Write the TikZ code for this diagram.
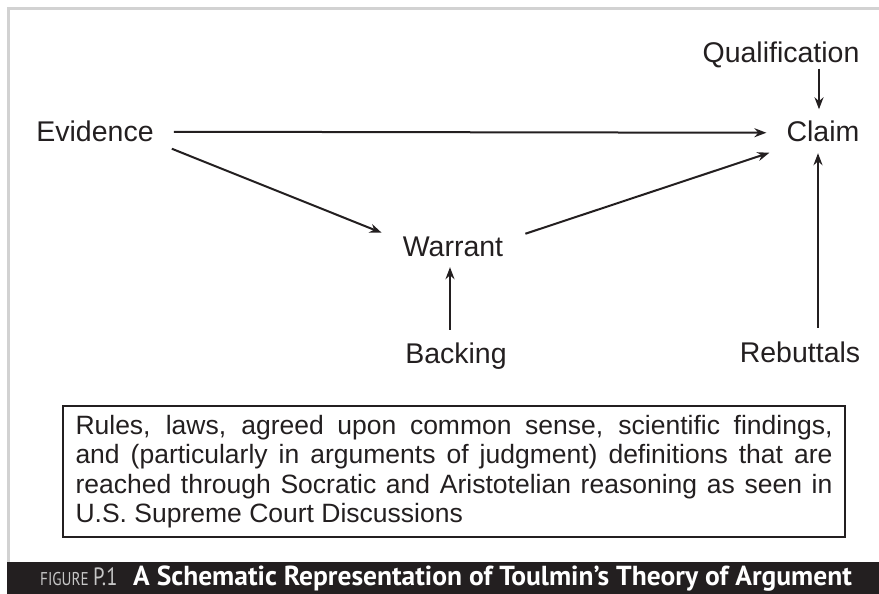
\documentclass[tikz,border=0pt]{standalone}
\usepackage{fontspec}
\setmainfont{Liberation Sans}
\newfontfamily\capfont{PT Sans}
\newfontfamily\figfont[FakeStretch=0.82]{PT Sans}
\usepackage{tikz,xcolor}
\usetikzlibrary{arrows.meta}
\definecolor{ink}{HTML}{231F20}
\definecolor{frame}{HTML}{D2D2D2}

\begin{document}
\begin{tikzpicture}[x=1pt,y=-1pt,
    lab/.style={anchor=base,inner sep=0pt,text height=20.5pt,text depth=0pt,text=ink,font=\fontsize{28.5}{30}\selectfont},
    arr/.style={draw=ink,line width=2pt,-{Stealth[length=12pt,width=9pt]}}]
            \useasboundingbox (0,0) rectangle (879,594);
            \draw[frame,line width=3pt] (8,562) -- (8,9) -- (879,9);
            \fill[ink] (7,562) rectangle (879,594);
            % labels
            \node[lab] (evid) at (95,142) {Evidence};
            \node[lab] (claim) at (823,142) {Claim};
            \node[lab] (qual) at (781,62.5) {Qualification};
            \node[lab] (warr) at (453,256) {Warrant};
            \node[lab] (back) at (456,363) {Backing};
            \node[lab] (rebut) at (800,362) {Rebuttals};
            % arrows
            \draw[arr] ([shift={(20,0)}]evid.east) -- ([shift={(-20,1)}]claim.west);
            \draw[arr] ([shift={(18,17)}]evid.east) -- ([shift={(-21,-13)}]warr.west);
            \draw[arr] ([shift={(22,-12)}]warr.east) -- ([shift={(-17,21)}]claim.west);
            \draw[arr] ([shift={(38,6)}]qual.south) -- ([shift={(-4,-12)}]claim.north);
            \draw[arr] ([shift={(18,-13.5)}]rebut.north) -- ([shift={(-5,11)}]claim.south);
            \draw[arr] ([shift={(-6,-12.5)}]back.north) -- ([shift={(-3,11)}]warr.south);
            % box
            \node[draw=ink,line width=2.5pt,text=ink,text width=757pt,inner xsep=12.5pt,inner ysep=0pt,
                minimum height=131pt,align=justify,font=\fontsize{26.5}{29.3}\selectfont] (note) at (454,471.5)
                {Rules, laws, agreed upon common sense, scientific findings,\linebreak
                 and (particularly in arguments of judgment) definitions that are\linebreak
                 reached through Socratic and Aristotelian reasoning as seen in\linebreak
                 U.S. Supreme Court Discussions};
            % caption
            \node[anchor=base west,inner sep=0pt,text=frame!85!gray,font=\figfont\fontsize{18.5}{19}\selectfont] (fig) at (40,585) {FIGURE};
            \node[anchor=base west,inner sep=0pt,text=frame!85!gray,font=\figfont\fontsize{25}{26}\selectfont] (num) at (93,585) {P.1};
            \node[anchor=base west,inner sep=0pt,text=white,font=\capfont\bfseries\fontsize{27.5}{29}\selectfont] (cap) at (133,585)
                {A Schematic Representation of Toulmin’s Theory of Argument};
        \end{tikzpicture}
\end{document}
